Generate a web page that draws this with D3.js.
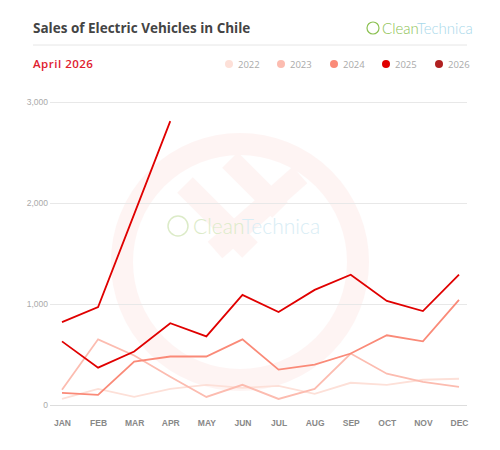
<!DOCTYPE html>
<html><head><meta charset="utf-8">
<script src="https://cdn.jsdelivr.net/npm/d3@7"></script>
<style>
  body { margin: 0; background: #fff; font-family: "Open Sans", sans-serif; }
</style></head>
<body><div id="container"></div>
<script>
const months = ["JAN","FEB","MAR","APR","MAY","JUN","JUL","AUG","SEP","OCT","NOV","DEC"];
const years = ["2022","2023","2024","2025","2026"];
const colors = ["#fde0d8","#fcbcb0","#fa8a78","#e00000","#b02020"];
const s2022 = [60,160,80,160,200,170,190,110,220,200,250,260];
const s2023 = [150,650,490,280,80,200,60,160,510,310,230,180];
const s2024 = [120,100,430,480,480,650,350,400,510,690,630,1040];
const s2025 = [630,370,530,810,680,1090,920,1140,1290,1030,930,1290];
const s2026 = [820,970,1890,2810];
const series = [s2022, s2023, s2024, s2025, s2026];
const yTicks = [0,1000,2000,3000];

const W = 500, H = 450;
const svg = d3.select("#container").append("svg").attr("width", W).attr("height", H);

// watermark
const wm = svg.append("g").attr("opacity", 0.45);
wm.append("circle").attr("cx", 240).attr("cy", 262).attr("r", 118)
  .attr("fill", "none").attr("stroke", "#fde8e6").attr("stroke-width", 22);
wm.append("path").attr("d", "M185,185 L250,250 M230,160 L280,210 M215,250 L300,175")
  .attr("stroke", "#fde8e6").attr("stroke-width", 22).attr("fill", "none");
svg.append("circle").attr("cx", 178).attr("cy", 226).attr("r", 10)
  .attr("fill", "none").attr("stroke", "#dcebc8").attr("stroke-width", 1.5);
svg.append("text").attr("x", 193).attr("y", 234).attr("font-size", 21).attr("font-family", "Lato")
  .attr("font-weight", 300).attr("fill", "#dcebc8").text("Clean")
  .append("tspan").attr("fill", "#d8edf5").text("Technica");

// header
svg.append("text").attr("x", 33).attr("y", 33).attr("font-size", 13.5).attr("font-weight", "bold")
  .attr("fill", "#444").text("Sales of Electric Vehicles in Chile");
svg.append("circle").attr("cx", 373).attr("cy", 28).attr("r", 6)
  .attr("fill", "none").attr("stroke", "#8cc152").attr("stroke-width", 1.2);
svg.append("text").attr("x", 382).attr("y", 34).attr("font-size", 15).attr("font-family", "Lato")
  .attr("font-weight", 300).attr("fill", "#8cc152").text("Clean")
  .append("tspan").attr("fill", "#a8d8ea").text("Technica");
svg.append("line").attr("x1", 33).attr("x2", 467).attr("y1", 45).attr("y2", 45)
  .attr("stroke", "#e6e6e6");
svg.append("text").attr("x", 33).attr("y", 68).attr("font-size", 11.5).attr("font-weight", 600)
  .attr("fill", "#e0202e").attr("letter-spacing", 0.5).text("April 2026");

const legX = [229, 281, 334, 386, 439];
const leg = svg.append("g").selectAll("g").data(years).join("g")
  .attr("transform", (d, i) => `translate(${legX[i]},64)`);
leg.append("circle").attr("r", 4).attr("fill", (d, i) => colors[i]);
leg.append("text").attr("x", 9).attr("y", 3.5).attr("font-size", 9.5).attr("fill", "#aaa").text(d => d);

// chart
const x = d3.scalePoint().domain(months).range([62, 459]);
const y = d3.scaleLinear().domain([0, 3000]).range([405, 102]);

const gy = svg.append("g").attr("transform", "translate(50,0)")
  .call(d3.axisLeft(y).tickValues(yTicks).tickSize(-417).tickFormat(d3.format(",")));
gy.select(".domain").remove();
gy.selectAll(".tick line").attr("stroke", "#e8e8e8").attr("x1", 0);
gy.selectAll(".tick text").attr("fill", "#aaa").attr("font-size", 8.5).attr("x", -2);
gy.selectAll(".tick").filter(d => d === 0).select("line").attr("stroke", "#ddd");

const gx = svg.append("g").attr("transform", "translate(0,405)")
  .call(d3.axisBottom(x).tickSize(0).tickPadding(15));
gx.select(".domain").remove();
gx.selectAll(".tick text").attr("fill", "#888").attr("font-size", 8.5).attr("font-weight", "bold");

const line = d3.line().x((d, i) => x(months[i])).y(d => y(d));
svg.append("g").selectAll("path").data(series).join("path")
  .attr("d", line).attr("fill", "none")
  .attr("stroke", (d, i) => i === 4 ? "#e00000" : colors[i])
  .attr("stroke-width", 1.8);
</script></body></html>
